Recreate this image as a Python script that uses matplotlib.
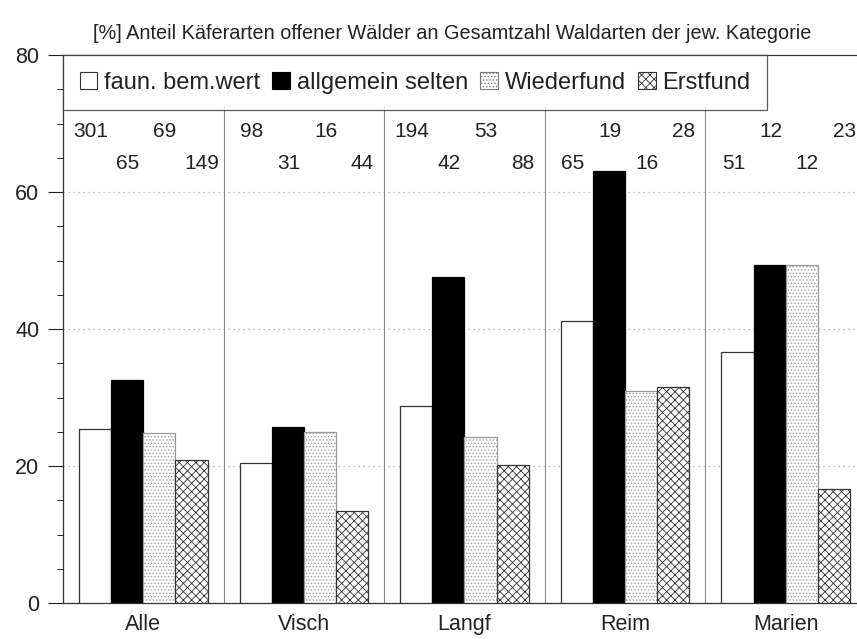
import numpy as np
import matplotlib
matplotlib.use("Agg")
import matplotlib.pyplot as plt
from matplotlib.patches import Patch

plt.rcParams['font.family'] = ['Liberation Sans', 'DejaVu Sans']
plt.rcParams['hatch.linewidth'] = 0.6

groups = ['Alle', 'Visch', 'Langf', 'Reim', 'Marien']
series = ['faun. bem.wert', 'allgemein selten', 'Wiederfund', 'Erstfund']

# percentages
faun = [25.4, 20.4, 28.8, 41.2, 36.7]
selten = [32.5, 25.7, 47.6, 63.0, 49.3]
wieder = [24.8, 25.0, 24.3, 31.0, 49.3]
erst = [20.9, 13.4, 20.2, 31.6, 16.6]

# absolute counts written above the bars
counts = [
    [301, 65, 69, 149],
    [98, 31, 16, 44],
    [194, 42, 53, 88],
    [65, 19, 16, 28],
    [51, 12, 12, 23],
]

values = [faun, selten, wieder, erst]
faces = ['white', 'black', 'white', 'white']
hatches = [None, None, '.....', 'xxxx']
edges = ['#333333', 'black', '#999999', '#333333']

fig = plt.figure(figsize=(8.57, 6.39), dpi=100)
ax = fig.add_axes([0.0735, 0.0563, 0.937, 0.8576])

w = 0.2
x = np.arange(len(groups)) + 0.5
for i in range(4):
    pos = x + (i - 1.5) * w
    ax.bar(pos, values[i], width=w, facecolor=faces[i], edgecolor=edges[i],
           hatch=hatches[i], linewidth=0.9, zorder=3)

# count labels, staggered in two rows
upper_first = [True, True, True, False, False]
for g in range(len(groups)):
    for i in range(4):
        up = (i % 2 == 0) == upper_first[g]
        ax.text(x[g] + (i - 1.5) * w * 1.15 + 0.02, 68.9 if up else 64.1, str(counts[g][i]),
                ha='center', va='center', fontsize=15, color='#222222')

# faint dotted grid
for yv in [20, 40, 60]:
    ax.axhline(yv, color='#aaaaaa', linestyle=(0, (1, 3)), linewidth=0.9, zorder=1)

# separators between groups
for b in range(1, len(groups)):
    ax.plot([b, b], [0, 72.5], color='#888888', linewidth=0.8, zorder=2)

ax.set_xlim(0, 5)
ax.set_ylim(0, 80)
ax.set_yticks([0, 20, 40, 60, 80])
ax.set_yticks(np.arange(0, 81, 5), minor=True)
ax.tick_params(axis='y', labelsize=15.5, length=11, width=0.8, pad=6, colors='#222222')
ax.tick_params(axis='y', which='minor', length=4, width=0.6)
ax.set_xticks(x)
ax.set_xticklabels(groups, fontsize=15.5, color='#222222')
ax.tick_params(axis='x', length=0, pad=8)
ax.spines['right'].set_visible(False)
for s in ['left', 'top', 'bottom']:
    ax.spines[s].set_linewidth(0.9)
    ax.spines[s].set_color('#333333')

handles = [Patch(facecolor=faces[i], edgecolor=edges[i] if i != 2 else '#777777',
                 hatch=hatches[i], linewidth=0.8) for i in range(4)]
leg = ax.legend(handles, series, loc='upper left', bbox_to_anchor=(0.0, 1.0), ncol=4,
                fontsize=17, frameon=True, fancybox=False, edgecolor='#333333',
                handlelength=0.75, handleheight=0.75, handletextpad=0.3,
                columnspacing=0.5, borderpad=0.7, borderaxespad=0.0)
leg.get_frame().set_linewidth(0.9)
leg.set_zorder(5)
for t in leg.get_texts():
    t.set_color('#222222')

fig.text(0.108, 0.948, '[%] Anteil Käferarten offener Wälder an Gesamtzahl Waldarten der jew. Kategorie',
         fontsize=14.3, color='#222222', va='center', ha='left')

fig.savefig('out.png', dpi=100)
